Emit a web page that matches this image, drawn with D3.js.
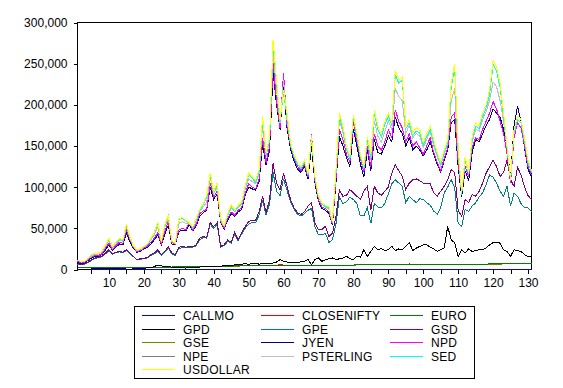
<!DOCTYPE html>
<html>
<head>
<meta charset="utf-8">
<script src="https://cdn.jsdelivr.net/npm/d3@7"></script>
<style>
  body { margin: 0; background: #fff; }
  text { font-family: "Liberation Sans", Arial, sans-serif; }
</style>
</head>
<body>
<svg id="chart" width="563" height="388"></svg>
<script>
'use strict';
const callmo = [6,7,8,7,6,6,7,9,8,7, 6,6,7,8,9,7,6,6,7,8, 9,8,7,7,6,6,5,6,7,6, 6,7,8,7,6,6,5,5,6,7,
  6,6,5,5,6,7,7,6,6,5, 5,6,7,8,7,6,6,7,8,9, 8,7,6,6,7,7,8,9,8,7, 7,6,6,7,8,9,10,9,8,7,
  7,6,6,7,7,8,8,7,6,6, 6,7,7,8,7,6,6,7,8,7, 7,8,9,9,8,7,7,8,9,10, 11,9,8,7,7,6,6,7,8,8, 9,8,7,7,6,6,7,7,8,8, 9];
const closenifty = [2300,2300,2400,2400,2400,2500,2500,2400,2500,2500, 2500,2600,2600,2500,2600,2600,2700,2700,2600,2700,
  2700,2800,2800,2900,2800,2900,3000,3000,3100,3100, 3200,3300,3900,3300,3400,3500,3500,3600,3800,3900,
  4000,3900,4000,4100,4200,4300,4300,4400,4500,4500, 4600,4700,4800,5000,5100,5100,5200,5200,5900,5300,
  5200,5200,5300,5200,5300,5300,5200,5100,5100,4800, 4800,4800,4900,4800,4900,5000,5100,5200,5200,5400,
  6100,5700,5800,5800,5900,5900,6000,6000,6000,6000, 6000,6100,6100,6100,6200,6700,6200,6200,6300,6300,
  6300,6300,6300,6400,6400,6400,6400,6400,6500,6500, 6500,6500,6500,6600,6600,6600,6600,6600,6700,6700,
  6700,6700,6800,6800,6800,6900,6900,7400,7000,7300, 7600];
const euro = [2300,2300,2400,2400,2400,2500,2500,2400,2500,2500, 2500,2600,2600,2500,2600,2600,2700,2700,2600,2700,
  2700,2800,2800,2900,2800,2900,3000,3000,3100,3100, 3200,3100,3200,3300,3400,3500,3500,3600,3800,3900,
  4000,3900,4000,4100,4200,4300,4300,4400,4500,4500, 4600,4700,4800,5000,5100,5100,5200,5200,5300,5300,
  5200,5200,5300,5200,5300,5300,5200,5100,5100,4800, 4800,4800,4900,4800,4900,5000,5100,5200,5200,5400,
  5600,5700,5800,5800,5900,5900,6000,6000,6000,6000, 6000,6100,6100,6100,6200,6200,6200,6200,6300,6300,
  6300,6300,6300,6400,6400,6400,5900,6400,6500,6500, 6500,6500,6500,6600,6600,6600,6600,6600,6700,6700,
  6700,6700,6800,6800,6800,6900,6900,6900,7000,7300, 7600];
const gpd = [300,300,400,500,600,800,900,800,1000,1200, 900,800,700,700,600,500,700,900,1200,1500,
  2000,2500,3500,5500,4500,3000,3500,2800,2000,2200, 2000,1800,2000,2300,2600,3000,3300,3500,3800,4000,
  4200,4000,4500,5000,4800,5500,6000,6500,7000,6500, 7000,7500,6500,7000,7500,7000,8000,9000,12000,10000,
  9000,8000,9000,8500,9500,10000,12000,6000,12000,14000, 10000,12000,13000,14000,12000,13000,14000,16000,13000,12000,
  16000,15000,24000,16000,22000,28000,24000,25500,23000,24000, 28000,23000,25000,24000,28000,32700,23000,26000,28000,30000,
  30000,27000,25000,22000,24000,26000,52500,36000,32700,16000, 24000,20000,25000,22000,23000,24000,24000,26000,30000,32700,
  33000,32000,24000,22000,16000,24000,23000,22000,18000,16000, 15000];
const gpe = [6000,5500,6500,8500,11000,13500,14500,15500,19000,23000, 18500,20500,21500,20500,23000,19500,15500,12000,12500,13000,
  14000,17000,19000,22000,17500,21000,26000,19000,17000,25000, 27000,26500,27000,27000,29000,36000,39000,38000,55000,50000,
  55000,27000,29000,34000,32000,43000,35000,43000,50000,55000, 57000,57000,66000,84000,66000,80000,118000,95000,90000,110000,
  96000,82000,73000,67000,65000,68000,72000,74000,52000,42000, 42000,44000,33000,36000,55000,88000,80000,82000,88000,85000,
  80000,65000,65000,75000,56000,80000,76000,75000,80000,92000, 104000,109000,105000,101000,81000,89000,85000,81000,86000,85000,
  81000,78000,71000,67000,75000,93000,100000,109000,100000,56000, 52500,72700,70700,77000,81000,88000,93000,103000,115000,112000,
  105000,95000,89000,101000,77000,93000,89000,80000,75000,75000, 70000];
const gsd = [7000,6000,7000,9000,12000,14000,15000,16000,20000,24000, 19000,21000,22000,21000,24000,20000,16000,12000,13000,13500,
  14500,18000,20000,24000,18000,22000,28000,20000,18000,27000, 28000,27000,28000,28000,30000,38000,40000,39000,57000,52000,
  57000,28000,30000,36000,33000,45000,36000,45000,52000,58000, 60000,60000,70000,89000,69000,85000,129000,105000,97000,117000,
  101000,85000,75000,69000,67000,70000,77000,81000,57000,48500, 48500,52500,40000,44000,64000,97000,89000,90000,97000,93000,
  89000,85000,95000,101000,72000,101000,93000,90000,95000,100000, 117000,127000,120000,113000,97000,105000,109000,110000,108000,105000,
  105000,104000,93000,89000,95000,101000,109000,121000,118000,72000, 64600,85000,81000,91000,89000,95000,105000,117000,125000,133000,
  125000,113000,118000,133000,109000,101000,124000,115000,100000,90000, 85000];
const gse = [2200,2200,2300,2300,2300,2400,2400,2300,2400,2400, 2400,2500,2500,2400,2500,2500,2600,2600,2500,2600,
  2600,2700,2700,2800,2700,2800,2900,2900,3000,3000, 3100,3000,3100,3200,3300,3400,3400,3500,3700,3800,
  3900,3800,3900,4000,4100,4200,4200,4300,4400,4400, 4500,4600,4700,4900,5000,5000,5100,5100,5200,5200,
  5100,5100,5200,5100,5200,5200,5100,5000,5000,4700, 4700,4700,4800,4700,4800,4900,5000,5100,5100,5300,
  5500,5600,5700,5700,5800,5800,5900,5900,5900,5900, 5900,6000,6000,6000,6100,6100,6100,6100,6200,6200,
  6200,6200,6200,6300,6300,6300,5800,6300,6400,6400, 6400,6400,6400,6500,6500,6500,6500,6500,6600,6600,
  6600,6600,6700,6700,6700,6800,6800,6800,6900,7200, 7500];
const jyen = [9000,7000,8000,11000,14000,16000,16000,18000,24000,30000, 23000,27000,31000,30000,44000,34000,26000,21000,22000,25000,
  27000,31000,36000,42000,30000,43000,54000,31000,30000,46000, 48000,47000,54000,47000,53000,65000,69000,72000,100000,85000,
  92000,57000,49000,60000,68000,64000,70000,73000,90000,100000, 98000,96000,107000,152000,127000,145000,240000,200000,170000,225000,
  172000,146000,132000,122000,118000,125000,110000,150000,105000,83000, 74000,72000,68000,54000,105000,162000,150000,136000,125000,170000,
  150000,128000,112000,145000,120000,158000,142000,140000,150000,162000, 155000,185000,172000,165000,150000,160000,145000,150000,145000,138000,
  145000,155000,140000,128000,118000,132000,145000,178000,182000,125000, 88000,120000,108000,142000,158000,155000,165000,175000,182000,195000,
  190000,185000,170000,150000,110000,175000,198000,180000,148000,122000, 112000];
const npd = [10000,8000,9000,12000,15000,17000,17000,19000,26000,32000, 24000,29000,33000,32000,48000,36000,27000,22000,23000,26000,
  28000,33000,38000,45000,31000,46000,58000,33000,31000,48000, 50000,48000,57000,48000,55000,68000,71000,73000,105000,88000,
  95000,58000,50000,62000,70000,66000,72000,75000,92000,104000, 100000,98000,110000,160000,130000,150000,251000,205000,172000,239000,
  175000,150000,135000,125000,120000,128000,112000,164000,108000,85000, 76000,74000,70000,55000,110000,170000,158000,140000,130000,180000,
  155000,135000,118000,150000,125000,165000,150000,145000,155000,170000, 160000,194000,180000,172000,155000,165000,150000,155000,148000,140000,
  150000,160000,142000,130000,120000,135000,148000,185000,190000,130000, 92000,125000,112000,148000,160000,158000,170000,180000,190000,204000,
  195000,180000,165000,140000,105000,160000,178000,172000,150000,125000, 115000];
const npe = [120,130,140,150,150,160,160,170,180,190, 180,190,200,200,210,200,190,190,200,210,
  220,230,240,250,240,230,240,250,250,260, 260,270,270,280,290,300,300,310,330,320,
  330,300,310,320,330,330,340,340,350,360, 360,360,370,390,380,380,420,400,390,400,
  390,380,370,370,360,370,360,380,360,350, 340,340,330,320,340,370,360,360,350,370,
  360,350,340,350,340,370,360,350,360,370, 360,390,380,380,360,370,360,360,360,350,
  360,360,350,340,330,340,350,380,390,350, 320,340,330,350,360,360,370,380,390,400,
  400,390,380,360,330,360,370,370,360,350, 340];
const psterling = [11000,9000,9500,13000,16000,18000,19000,21000,28000,35000, 26000,31000,36000,34000,52000,38000,28000,23000,24000,27000,
  30000,36000,42000,52000,33000,51000,62000,34000,32000,56000, 58000,56000,56000,50000,59000,71000,76000,82000,112000,92000,
  100000,60000,52000,65000,75000,70000,75000,79000,97000,110000, 107000,104000,116000,175000,138000,156000,265000,218000,178000,230000,
  182000,152000,138000,128000,123000,131000,115000,163000,111000,88000, 79000,76000,73000,57000,115000,182000,166000,146000,134000,184000,
  160000,138000,122000,156000,133000,180000,162000,155000,168000,180000, 170000,220000,210000,205000,165000,175000,160000,165000,162000,148000,
  158000,168000,150000,137000,126000,140000,152000,205000,220000,140000, 92000,132000,115000,155000,170000,168000,182000,192000,205000,228000,
  222000,205000,180000,148000,108000,165000,182000,178000,156000,130000, 118000];
const sed = [11800,9300,9800,13700,17600,19600,19600,21600,29400,37200, 27500,32400,37300,35300,54000,39200,28500,23600,24500,27500,
  30400,37300,44000,57000,33400,54000,64800,34400,31400,61000, 62000,59000,56000,51000,61000,71500,78500,88000,115000,93000,
  103000,61000,52000,66500,77500,70500,76500,80500,99000,115000, 111000,106000,119000,183000,139000,157000,273000,226000,179000,215000,
  186000,151000,137000,127500,122500,130000,115000,158000,111000,88000, 79500,76500,74500,57000,118000,186000,171000,147000,134000,184000,
  162000,137000,122500,158000,137000,190000,170000,161000,176000,186000, 175000,237000,226000,230000,171000,178000,163000,168000,166000,151000,
  162000,170000,154000,139000,127500,142000,154000,221000,245000,146000, 91000,134000,115000,158000,174000,171000,186000,196000,213000,249000,
  241000,221000,186000,147000,107000,167000,182000,178000,157000,130000, 117500];
const usdollar = [12000,9500,10000,14000,18000,20000,20000,22000,30000,38000, 28000,33000,38000,36000,55000,40000,29000,24000,25000,28000,
  31000,38000,45000,58000,34000,55000,66000,35000,32000,62000, 63000,60000,57000,52000,62000,73000,80000,90000,117000,95000,
  105000,62000,53000,68000,79000,72000,78000,82000,101000,117000, 113000,108000,121000,186000,142000,160000,279000,230000,182000,218000,
  190000,154000,140000,130000,125000,133000,117000,161000,113000,90000, 81000,78000,76000,58000,120000,190000,174000,150000,137000,188000,
  165000,140000,125000,161000,140000,194000,174000,165000,180000,190000, 178000,242000,230000,234000,174000,182000,166000,172000,170000,154000,
  165000,174000,157000,142000,130000,145000,157000,226000,250000,149000, 93000,137000,117000,161000,178000,175000,190000,200000,218000,254000,
  246000,226000,190000,150000,109000,170000,186000,182000,160000,133000, 120000];

const names = ['CALLMO','CLOSENIFTY','EURO','GPD','GPE','GSD','GSE','JYEN','NPD','NPE','PSTERLING','SED','USDOLLAR'];
const colors = ['#0000ff','#ff0000','#008000','#000000','#008080','#800080','#808000','#000080','#ff00ff','#808080','#c0c0c0','#00ffff','#ffff00'];
const yTicks = [0, 50000, 100000, 150000, 200000, 250000, 300000];
const xTicks = d3.range(5, 131, 5);

const values = [callmo, closenifty, euro, gpd, gpe, gsd, gse, jyen, npd, npe, psterling, sed, usdollar];
const series = names.map((name, k) => ({ name, color: colors[k], values: values[k] }));

const svg = d3.select('#chart');
const pLeft = 77.5, pRight = 531.5, pTop = 22.5, pBottom = 269.5;

const x = d3.scaleLinear().domain([1, 131]).range([pLeft, pRight]);
const y = d3.scaleLinear().domain([0, 300000]).range([pBottom, pTop]);

// frame first so the series sit on top of it
svg.append('rect')
  .attr('x', pLeft).attr('y', pTop)
  .attr('width', pRight - pLeft).attr('height', pBottom - pTop)
  .attr('fill', 'none').attr('stroke', '#000')
  .attr('shape-rendering', 'crispEdges');

// y axis
const yAxis = svg.append('g')
  .attr('transform', `translate(${pLeft},0)`)
  .call(d3.axisLeft(y).tickValues(yTicks).tickSize(4).tickPadding(6).tickFormat(d3.format(',')));
// x axis, labels only every 10
const xAxis = svg.append('g')
  .attr('transform', `translate(0,${pBottom})`)
  .call(d3.axisBottom(x).tickValues(xTicks).tickSize(4).tickPadding(5)
    .tickFormat((d) => (d % 10 === 0 ? d : '')));
[yAxis, xAxis].forEach((g) => {
  g.select('.domain').remove();
  g.selectAll('line').attr('stroke', '#000').attr('shape-rendering', 'crispEdges');
  g.selectAll('text').attr('font-size', 12).attr('fill', '#000')
    .style('font-family', '"Liberation Sans", Arial, sans-serif');
});

// lines: the two series that never show in the picture go underneath
const order = ['NPE', 'GSE', 'CALLMO', 'CLOSENIFTY', 'EURO', 'GPD', 'GPE', 'GSD', 'JYEN', 'NPD', 'PSTERLING', 'SED', 'USDOLLAR'];
const line = d3.line().x((d, i) => x(i + 1)).y((d) => y(d));
svg.append('g')
  .selectAll('path')
  .data(order.map((n) => series.find((s) => s.name === n)))
  .join('path')
  .attr('d', (d) => line(d.values))
  .attr('fill', 'none')
  .attr('stroke', (d) => d.color)
  .attr('stroke-width', (d) => (d.name === 'CALLMO' ? 1.5 : 1))
  .attr('shape-rendering', 'crispEdges');

// legend, 3 columns filled row by row
const lg = svg.append('g');
lg.append('rect')
  .attr('x', 134.5).attr('y', 306.5).attr('width', 340).attr('height', 72)
  .attr('fill', '#fff').attr('stroke', '#000').attr('shape-rendering', 'crispEdges');
const colX = [142, 261, 390];
const item = lg.selectAll('.item')
  .data(series)
  .join('g')
  .attr('class', 'item')
  .attr('transform', (d, k) => `translate(${colX[k % 3]},${315.5 + Math.floor(k / 3) * 13.5})`);
item.append('line')
  .attr('x1', 0).attr('x2', 33)
  .attr('stroke', (d) => d.color)
  .attr('shape-rendering', 'crispEdges');
item.append('text')
  .attr('x', 41).attr('y', 4.6)
  .attr('font-size', 12)
  .attr('letter-spacing', 0.3)
  .text((d) => d.name);
</script>
</body>
</html>
